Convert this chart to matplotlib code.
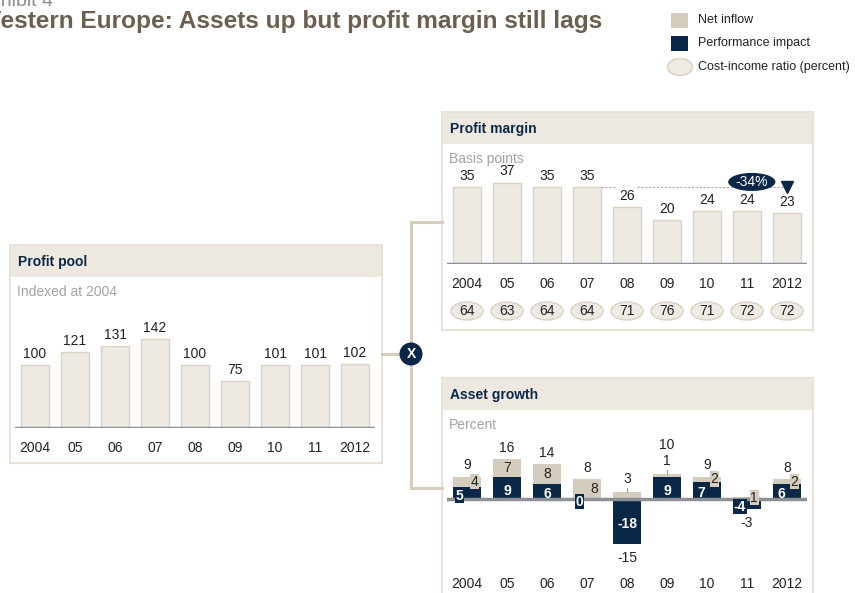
import matplotlib
matplotlib.use('Agg')
from matplotlib import pyplot as plt
from matplotlib.patches import Rectangle, Ellipse, Circle
from matplotlib.transforms import blended_transform_factory

plt.rcParams['font.family'] = ['Liberation Sans', 'DejaVu Sans']

years = ['2004', '05', '06', '07', '08', '09', '10', '11', '2012']
profit_pool = [100, 121, 131, 142, 100, 75, 101, 101, 102]
profit_margin = [35, 37, 35, 35, 26, 20, 24, 24, 23]
cost_income = [64, 63, 64, 64, 71, 76, 71, 72, 72]
net_inflow = [4, 7, 8, 8, 3, 1, 2, 1, 2]
performance = [5, 9, 6, 0, -18, 9, 7, -4, 6]
asset_total = [9, 16, 14, 8, -15, 10, 9, -3, 8]
margin_change = '-34%'

# how each asset-growth label sits on its bar
perf_label_style = ['box', 'in', 'in', 'box', 'in', 'in', 'left', 'box', 'left']
inflow_label_style = ['box', 'in', 'in', 'box', 'above', 'above', 'box', 'box', 'box']

NAVY = '#0b2748'
BEIGE = '#d4ccbc'
LIGHT = '#eeeae3'
EDGE = '#dbd2c2'
HEADER = '#ede9e1'
BORDER = '#e8e2d7'
CONN = '#d6cdbc'
GREY_LINE = '#8d9095'
TXT = '#222222'
SUB = '#a3a3a3'

W, H = 855, 593
fig = plt.figure(figsize=(W / 100, H / 100), dpi=100)
canvas = fig.add_axes([0, 0, 1, 1])
canvas.set_xlim(0, W)
canvas.set_ylim(H, 0)
canvas.axis('off')


def px_axes(x0, y0, x1, y1):
    ax = fig.add_axes([x0 / W, 1 - y1 / H, (x1 - x0) / W, (y1 - y0) / H])
    ax.patch.set_alpha(0)
    for s in ax.spines.values():
        s.set_visible(False)
    ax.set_yticks([])
    ax.set_xlim(-0.5, len(years) - 0.5)
    ax.set_xticks(range(len(years)), years)
    return ax


def panel(x0, y0, x1, y1, title, sub):
    canvas.add_patch(Rectangle((x0, y0), x1 - x0, y1 - y0, facecolor='white',
                               edgecolor=BORDER, lw=1.5))
    canvas.add_patch(Rectangle((x0 + 1, y0 + 1), x1 - x0 - 2, 31, facecolor=HEADER,
                               edgecolor='none'))
    canvas.text(x0 + 8, y0 + 17, title, color=NAVY, fontsize=10, fontweight='bold',
                va='center')
    canvas.text(x0 + 7, y0 + 47, sub, color=SUB, fontsize=10, va='center')


# titles (the reference image is cropped on the left)
canvas.text(53, 6, 'Exhibit 4', ha='right', va='baseline', fontsize=14, color='#8b8b8b')
canvas.text(602, 28, 'Western Europe: Assets up but profit margin still lags',
            ha='right', va='baseline', fontsize=17.6, fontweight='bold', color='#6b5f4f')

# legend
canvas.add_patch(Rectangle((671, 13), 17, 15, facecolor=BEIGE))
canvas.text(698, 20, 'Net inflow', fontsize=9, va='center', color=TXT)
canvas.add_patch(Rectangle((671, 36), 17, 15, facecolor=NAVY))
canvas.text(698, 43, 'Performance impact', fontsize=9, va='center', color=TXT)
canvas.add_patch(Ellipse((680, 67), 25, 17, facecolor='#efebe4', edgecolor='#d8d0c0'))
canvas.text(698, 67, 'Cost-income ratio (percent)', fontsize=9, va='center', color=TXT)

# panels
panel(10, 245, 382, 463, 'Profit pool', 'Indexed at 2004')
panel(442, 112, 813, 330, 'Profit margin', 'Basis points')
panel(442, 378, 813, 610, 'Asset growth', 'Percent')

# connectors
canvas.plot([382, 411], [354, 354], color=CONN, lw=2.2)
canvas.plot([411, 411], [222, 488], color=CONN, lw=2.2)
canvas.plot([411, 442], [222, 222], color=CONN, lw=2.2)
canvas.plot([411, 442], [488, 488], color=CONN, lw=2.2)
canvas.add_patch(Circle((411, 354), 11.5, facecolor=NAVY, zorder=3))
canvas.text(411, 354.5, 'X', color='white', fontsize=10, fontweight='bold',
            ha='center', va='center', zorder=4)

x = list(range(len(years)))

# profit pool
ax1 = px_axes(15, 300, 375, 428)
ax1.set_ylim(0, 128 / 0.627)
ax1.bar(x, profit_pool, width=0.72, color=LIGHT, edgecolor=EDGE, lw=1)
ax1.axhline(0, color=GREY_LINE, lw=2.5)
for i, v in enumerate(profit_pool):
    ax1.annotate(str(v), (i, v), xytext=(0, 3), textcoords='offset points',
                 ha='center', va='bottom', fontsize=10, color=TXT)
ax1.tick_params(axis='x', length=0, pad=9, labelsize=10, labelcolor=TXT)

# profit margin
ax2 = px_axes(447, 160, 807, 264)
ax2.set_ylim(0, 104 / 2.2)
ax2.bar(x, profit_margin, width=0.72, color=LIGHT, edgecolor=EDGE, lw=1)
ax2.axhline(0, color=GREY_LINE, lw=2.5)
for i, v in enumerate(profit_margin):
    ax2.annotate(str(v), (i, v), xytext=(0, 3), textcoords='offset points',
                 ha='center', va='bottom', fontsize=10, color=TXT)
ref = profit_margin[3]
ax2.plot([3.36, 3.7], [ref, ref], ls=(0, (2, 1.5)), color='#aaaaaa', lw=0.8)
ax2.plot([4.25, 8.0], [ref, ref], ls=(0, (2, 1.5)), color='#aaaaaa', lw=0.8)
ax2.plot([8], [ref], marker='v', color=NAVY, markersize=8, clip_on=False, zorder=4)
ax2.add_patch(Ellipse((7.12, ref + 2.3), 1.18, 8.2, facecolor=NAVY, zorder=4))
ax2.text(7.12, ref + 2.3, margin_change, color='white', fontsize=10, ha='center',
         va='center', zorder=5)
ax2.tick_params(axis='x', length=0, pad=9, labelsize=10, labelcolor=TXT)
bt = blended_transform_factory(ax2.transData, ax2.transAxes)
for i, v in enumerate(cost_income):
    ax2.add_patch(Ellipse((i, -0.452), 0.8, 0.173, transform=bt, facecolor='#efebe4',
                          edgecolor='#d8d0c0', lw=1, clip_on=False))
    ax2.text(i, -0.452, str(v), transform=bt, ha='center', va='center', fontsize=10,
             color=TXT)

# asset growth
ax3 = px_axes(447, 430, 807, 575)
ax3.set_ylim(-76 / 2.5, 69 / 2.5)
bottoms = [p if p > 0 else 0 for p in performance]
ax3.bar(x, performance, width=0.72, color=NAVY, zorder=2)
ax3.bar(x, net_inflow, bottom=bottoms, width=0.72, color=BEIGE, zorder=2)
ax3.axhline(0, color=GREY_LINE, lw=2.5, zorder=3)
ax3.tick_params(axis='x', length=0, pad=1.5, labelsize=10, labelcolor=TXT)

for i in x:
    p, f, t = performance[i], net_inflow[i], asset_total[i]
    # performance label
    ps = perf_label_style[i]
    px = i - 0.18 if ps == 'box' else (i - 0.15 if ps == 'left' else i)
    kw = dict(ha='center', va='center', fontsize=10, fontweight='bold', color='white',
              textcoords='offset points', zorder=5)
    if ps == 'box':
        kw['bbox'] = dict(boxstyle='square,pad=0.05', facecolor=NAVY, edgecolor='none')
    ax3.annotate(str(p), (px, p / 2), xytext=(0, -2), **kw)
    # net inflow label
    fs = inflow_label_style[i]
    top = bottoms[i] + f
    if fs == 'above':
        ax3.plot([i, i], [top, top + 1.5], color='#999999', lw=0.8, zorder=3)
        ax3.annotate(str(f), (i, top), xytext=(0, 4), textcoords='offset points',
                     ha='center', va='bottom', fontsize=10, color=TXT)
    else:
        fx = i + 0.18 if fs == 'box' else i
        kw = dict(ha='center', va='center', fontsize=10, color=TXT, zorder=5)
        if fs == 'box':
            kw['bbox'] = dict(boxstyle='square,pad=0.05', facecolor=BEIGE, edgecolor='none')
        ax3.text(fx, bottoms[i] + f / 2, str(f), **kw)
    # total label
    if t > 0:
        off = 15.5 if fs == 'above' else 3
        ax3.annotate(str(t), (i, top), xytext=(0, off), textcoords='offset points',
                     ha='center', va='bottom', fontsize=10, color=TXT)
    else:
        ax3.annotate(str(t), (i, min(p, 0)), xytext=(0, -5), textcoords='offset points',
                     ha='center', va='top', fontsize=10, color=TXT)

fig.savefig('out.png', dpi=100)
